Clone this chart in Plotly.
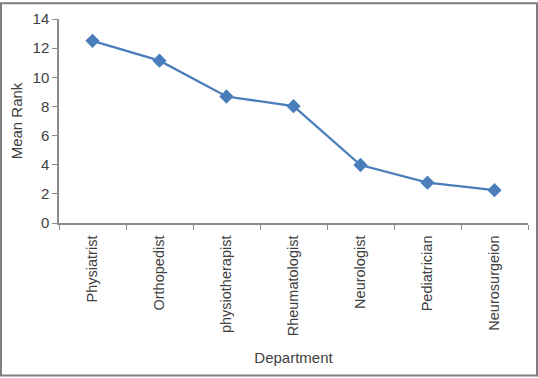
import plotly.graph_objects as go

departments = ["Physiatrist", "Orthopedist", "physiotherapist", "Rheumatologist",
               "Neurologist", "Pediatrician", "Neurosurgeion"]
mean_rank = [12.5, 11.14, 8.68, 8.02, 3.98, 2.77, 2.25]
y_ticks = [0, 2, 4, 6, 8, 10, 12, 14]

W, H = 538, 378
ml, mr, mt, mb = 59, 10, 17, 155
pw, ph = W - ml - mr, H - mt - mb

fig = go.Figure()
fig.add_trace(go.Scatter(
    x=departments, y=mean_rank, mode="lines+markers",
    line=dict(color="#4a7ebb", width=2.25),
    marker=dict(symbol="diamond", size=11, color="#4a7ebb",
                line=dict(color="#4a7ebb", width=0)),
    showlegend=False,
))

axis_font = dict(family="Liberation Sans, Arial, sans-serif", size=15, color="#404040")
xtick_font = dict(family="Liberation Sans, Arial, sans-serif", size=14.5, color="#404040")

fig.update_layout(
    width=W, height=H,
    margin=dict(l=ml, r=mr, t=mt, b=mb, pad=0),
    paper_bgcolor="white", plot_bgcolor="white",
    font=axis_font,
    xaxis=dict(
        type="category", range=[-0.5, 6.5],
        showgrid=False, zeroline=False,
        showline=True, linecolor="#8c8c8c", linewidth=1.5,
        ticks="outside", tickson="boundaries", ticklen=5, tickcolor="#8c8c8c",
        tickangle=-90, tickfont=xtick_font, ticklabelstandoff=5,
        title=dict(text="Department", font=axis_font, standoff=17),
    ),
    yaxis=dict(
        range=[0, 14], tickvals=y_ticks,
        showgrid=False, zeroline=False,
        showline=True, linecolor="#8c8c8c", linewidth=1.5,
        ticks="outside", ticklen=5, tickcolor="#8c8c8c",
        tickfont=axis_font,
        title=dict(text="Mean Rank", font=axis_font, standoff=6),
    ),
    shapes=[dict(
        type="rect", xref="paper", yref="paper",
        x0=(-ml + 1) / pw, x1=1 + (mr - 1) / pw,
        y0=(-mb + 1) / ph, y1=1 + (mt - 1) / ph,
        line=dict(color="#7f7f7f", width=2), fillcolor="rgba(0,0,0,0)",
        layer="below",
    )],
)

fig.write_html("out.html", config={"displayModeBar": False},
               post_script="document.body.style.margin='0';document.body.style.overflow='hidden';")
